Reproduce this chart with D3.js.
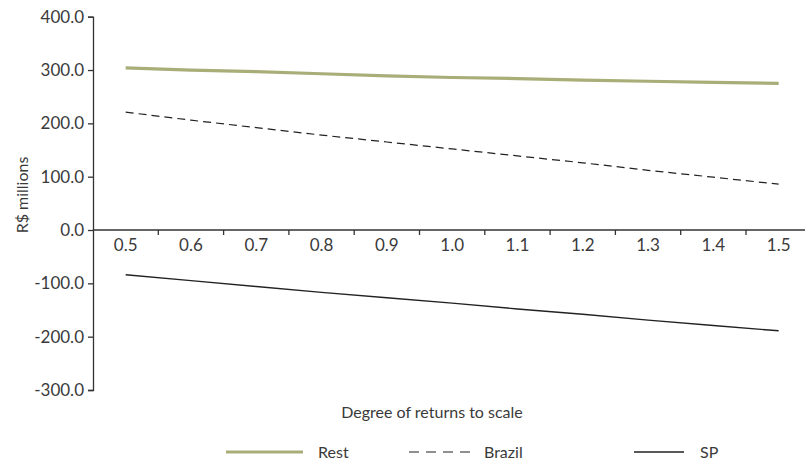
<!DOCTYPE html>
<html><head><meta charset="utf-8">
<script src="https://cdn.jsdelivr.net/npm/d3@7/dist/d3.min.js"></script>
<style>body{margin:0;background:#fff}text{font-family:Lato,"Open Sans",sans-serif;fill:#3a3a3a}</style>
</head><body><svg id="c" width="805" height="468"></svg>
<script>
const categories = ["0.5","0.6","0.7","0.8","0.9","1.0","1.1","1.2","1.3","1.4","1.5"];
const rest   = [304, 300, 297, 293, 289, 286, 284, 281, 279, 277, 275];
const brazil = [221, 206, 192, 178, 165, 152, 139, 126, 112, 99, 86];
const sp     = [-84, -95, -106, -117, -127, -137, -148, -158, -169, -179, -189];
const yTicks = [400, 300, 200, 100, 0, -100, -200, -300];
const seriesNames = ["Rest", "Brazil", "SP"];

const svg = d3.select("#c");
const x = d3.scaleBand().domain(categories).range([93, 93 + 11 * 65.3]);
const y = d3.scaleLinear().domain([-300, 400]).range([390, 16.7]);

// y axis
const ya = svg.append("g").attr("transform", "translate(93,0)")
  .call(d3.axisLeft(y).tickValues(yTicks).tickFormat(d => d3.format(".1f")(d).replace("−", "-")).tickSize(5).tickPadding(4));
ya.select(".domain").attr("stroke", "#333").attr("stroke-width", 1.3);
ya.selectAll(".tick line").attr("stroke", "#333").attr("stroke-width", 1.3);
ya.selectAll(".tick text").style("font-size", "17px").style("font-family", "Lato, sans-serif").attr("fill", "#3a3a3a");

// x axis at y=0 with ticks between categories
const xa = svg.append("g").attr("transform", `translate(0,${y(0)})`);
xa.append("line").attr("x1", 93).attr("x2", 805).attr("stroke", "#333").attr("stroke-width", 1.3);
categories.slice(1).forEach(c => {
  xa.append("line").attr("x1", x(c)).attr("x2", x(c)).attr("y1", 0).attr("y2", 5).attr("stroke", "#333").attr("stroke-width", 1.3);
});
categories.forEach(c => {
  xa.append("text").attr("x", x(c) + x.bandwidth() / 2).attr("y", 21).attr("text-anchor", "middle")
    .style("font-size", "17px").text(c);
});

const line = d3.line().x((d, i) => x(categories[i]) + x.bandwidth() / 2).y(d => y(d));
svg.append("path").datum(rest).attr("d", line).attr("fill", "none").attr("stroke", "#a9ad78").attr("stroke-width", 3.2);
svg.append("path").datum(brazil).attr("d", line).attr("fill", "none").attr("stroke", "#222").attr("stroke-width", 1.2).attr("stroke-dasharray", "8,5");
svg.append("path").datum(sp).attr("d", line).attr("fill", "none").attr("stroke", "#222").attr("stroke-width", 1.4);

// axis titles
svg.append("text").attr("transform", "translate(28,195) rotate(-90)").attr("text-anchor", "middle")
  .style("font-size", "16px").text("R$ millions");
svg.append("text").attr("x", 432).attr("y", 418).attr("text-anchor", "middle").style("font-size", "16px").text("Degree of returns to scale");

// legend
const legendX = [[226, 303, 318], [409, 470, 484], [634, 684, 700]];
const styles = [
  {stroke: "#a9ad78", w: 3.2, dash: null},
  {stroke: "#222", w: 1.2, dash: "10,7"},
  {stroke: "#222", w: 1.4, dash: null}
];
seriesNames.forEach((n, i) => {
  const [x1, x2, tx] = legendX[i];
  svg.append("line").attr("x1", x1).attr("x2", x2).attr("y1", 452).attr("y2", 452)
    .attr("stroke", styles[i].stroke).attr("stroke-width", styles[i].w).attr("stroke-dasharray", styles[i].dash);
  svg.append("text").attr("x", tx).attr("y", 458).style("font-size", "16px").text(n);
});
</script></body></html>
